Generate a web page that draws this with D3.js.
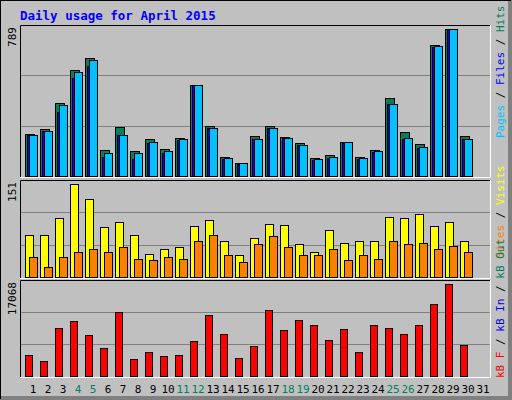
<!DOCTYPE html>
<html><head><meta charset="utf-8">
<script src="https://cdn.jsdelivr.net/npm/d3@7"></script>
<style>body{margin:0;background:#fff}svg{display:block}</style>
</head><body>
<svg id="c" width="512" height="400"></svg>
<script>
const days = d3.range(1, 32);
const weekend = [4,5,11,12,18,19,25,26];
const hits  = [228,251,394,570,634,139,261,133,197,144,203,490,267,101,69,213,267,208,176,96,112,181,101,139,416,235,171,704,789,213];
const files = [218,240,341,528,592,101,218,90,175,126,195,489,255,92,66,196,255,204,165,86,96,176,90,128,385,200,148,694,787,196];
const pages = [222,244,382,558,622,126,222,126,185,132,201,489,260,94,68,201,260,206,169,89,100,180,94,132,388,206,153,697,787,201];
const visits= [69,68,95,151,126,81,89,68,38,45,48,82,92,58,35,63,86,84,53,40,76,55,58,59,97,95,102,82,89,59];
const sites = [32,17,32,40,45,41,48,30,27,32,30,58,68,35,25,53,66,48,35,35,45,27,35,30,59,53,55,46,50,41];
const kbF   = [3987,2865,8845,10154,7537,5108,11835,3239,4360,3800,3987,6416,11275,7724,3426,5482,12209,8472,10340,9406,6603,8659,4360,9406,8845,7724,9406,13330,17068,5669];
const maxLabels = ["789","151","17068"];

const svg = d3.select("#c");
const F = "'DejaVu Sans Mono', monospace";
svg.append("rect").attr("width",512).attr("height",400).attr("fill","#c0c0c0");
svg.append("path").attr("d","M0.5,399.5V0.5H511.5").attr("stroke","#fff").attr("fill","none");
svg.append("rect").attr("x",508).attr("y",0).attr("width",4).attr("height",400).attr("fill","#808080");
svg.append("rect").attr("x",0).attr("y",396).attr("width",512).attr("height",4).attr("fill","#808080");
svg.append("path").attr("d","M0,0.5H511M0.5,0V399").attr("stroke","#000").attr("fill","none");

svg.append("text").attr("x",20).attr("y",20).attr("fill","#0000ff").attr("font-family",F)
  .attr("font-weight","bold").attr("font-size",12.5).text("Daily usage for April 2015");

const x = d3.scaleBand().domain(days).range([20,491]).paddingInner(0).paddingOuter(0.02);
const step = 15, x0 = d => 25 + (d-1)*step;

function panel(top, bottom, max, yl){
  svg.append("rect").attr("x",20).attr("y",top).attr("width",471).attr("height",bottom-top).attr("fill","#c0c0c0");
  const y = d3.scaleLinear().domain([0,max]).range([bottom-1, top+4]);
  [1/3,2/3].forEach(f=>{
    const gy = Math.round(bottom-1-(bottom-top-1)*f)+0.5;
    svg.append("line").attr("x1",21).attr("x2",490).attr("y1",gy).attr("y2",gy).attr("stroke","#808080");
  });
  svg.append("path").attr("d",`M20.5,${bottom}V${top+0.5}H491`).attr("stroke","#000").attr("fill","none");
  svg.append("path").attr("d",`M20,${bottom+0.5}H490.5V${top}`).attr("stroke","#fff").attr("fill","none");
  svg.append("text").attr("transform",`translate(16,${top+2}) rotate(-90)`).attr("text-anchor","end")
    .attr("font-family",F).attr("font-size",11).attr("fill","#000").text(yl);
  return y;
}
function bars(data, y, off, w, color){
  svg.append("g").selectAll("rect").data(data).join("rect")
    .attr("x",(v,i)=>x0(i+1)+off+0.5).attr("width",w)
    .attr("y",v=>Math.round(y(v))+0.5).attr("height",v=>y(0)-Math.round(y(v)))
    .attr("fill",color).attr("stroke","#000");
}
const y1 = panel(25,177,789,maxLabels[0]);
bars(hits,y1,0,9,"#00805c");
bars(files,y1,2,9,"#0000ff");
bars(pages,y1,4,8,"#00c0ff");
const y2 = panel(180,278,151,maxLabels[1]);
bars(visits,y2,0,8,"#ffff00");
bars(sites,y2,4,8,"#ff8000");
const y3 = panel(280,377,17068,maxLabels[2]);
bars(kbF,y3,0,7,"#ff0000");

svg.append("g").selectAll("text").data(days).join("text")
  .attr("x",d=>x0(d)+8).attr("y",393).attr("text-anchor","middle")
  .attr("font-family",F).attr("font-size",11)
  .attr("fill",d=>weekend.includes(d)?"#00805c":"#000").text(d=>d);

function side(y, parts){
  const t = svg.append("text").attr("transform",`translate(504,${y}) rotate(-90)`)
    .attr("font-family",F).attr("font-size",11);
  parts.forEach(([s,c])=>t.append("tspan").attr("fill",c).text(s));
}
side(138,[["Pages","#00c0ff"],[" / ","#000"],["Files","#0000ff"],[" / ","#000"],["Hits","#00805c"]]);
side(258,[["Sites","#ff8000"],[" / ","#000"],["Visits","#ffff00"]]);
side(378,[["kB F","#ff0000"],[" / ","#000"],["kB In","#0000ff"],[" / ","#000"],["kB Out","#00805c"]]);
</script>
</body></html>
